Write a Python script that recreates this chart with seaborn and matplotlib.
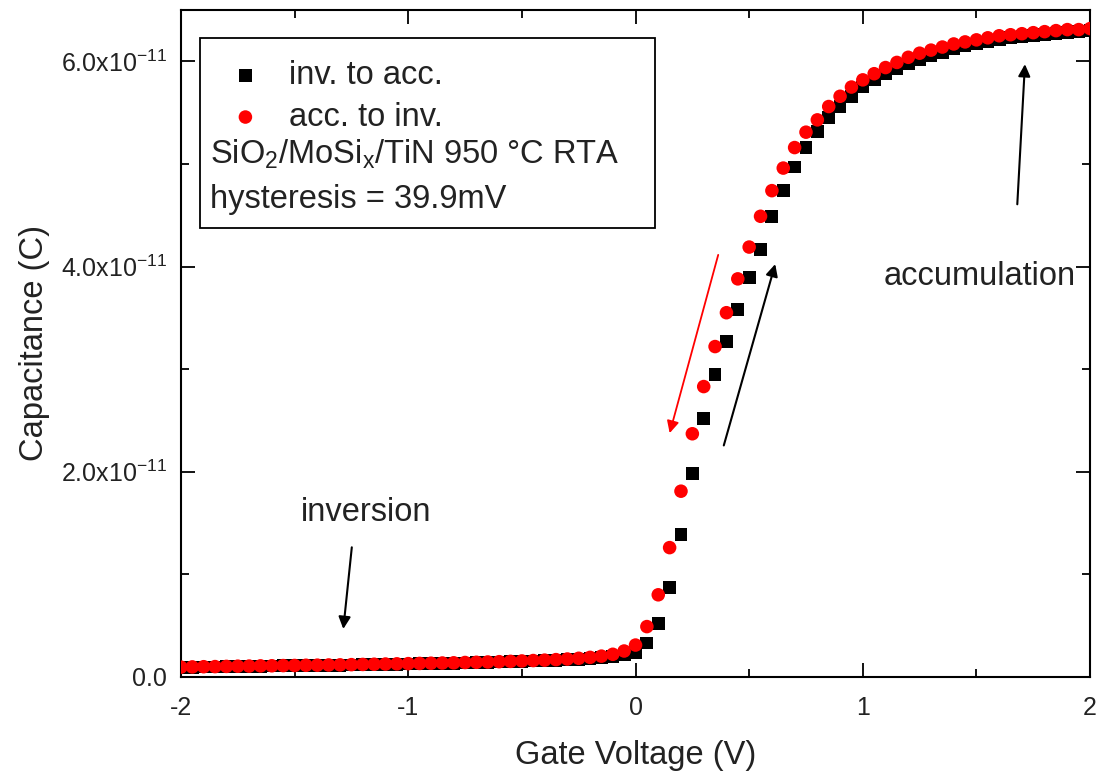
import numpy as np
import matplotlib
matplotlib.use("Agg")
import matplotlib.pyplot as plt
import seaborn as sns
import pandas as pd
from matplotlib.patches import Rectangle
from matplotlib.ticker import MultipleLocator, FixedLocator

# --- data (C in units of 1e-11 F) ---
gate_voltage = [
    -2.00, -1.95, -1.90, -1.85, -1.80, -1.75, -1.70, -1.65, -1.60, -1.55,
    -1.50, -1.45, -1.40, -1.35, -1.30, -1.25, -1.20, -1.15, -1.10, -1.05,
    -1.00, -0.95, -0.90, -0.85, -0.80, -0.75, -0.70, -0.65, -0.60, -0.55,
    -0.50, -0.45, -0.40, -0.35, -0.30, -0.25, -0.20, -0.15, -0.10, -0.05,
    0.00, 0.05, 0.10, 0.15, 0.20, 0.25, 0.30, 0.35, 0.40, 0.45,
    0.50, 0.55, 0.60, 0.65, 0.70, 0.75, 0.80, 0.85, 0.90, 0.95,
    1.00, 1.05, 1.10, 1.15, 1.20, 1.25, 1.30, 1.35, 1.40, 1.45,
    1.50, 1.55, 1.60, 1.65, 1.70, 1.75, 1.80, 1.85, 1.90, 1.95, 2.00,
]

cap_inv_to_acc = [
    0.092, 0.094, 0.096, 0.097, 0.099, 0.101, 0.102, 0.104, 0.105, 0.107,
    0.108, 0.110, 0.111, 0.113, 0.114, 0.116, 0.118, 0.120, 0.122, 0.124,
    0.126, 0.128, 0.130, 0.132, 0.134, 0.136, 0.139, 0.141, 0.144, 0.147,
    0.150, 0.154, 0.158, 0.162, 0.167, 0.173, 0.180, 0.190, 0.200, 0.215,
    0.24, 0.33, 0.52, 0.87, 1.39, 1.98, 2.52, 2.95, 3.27, 3.58,
    3.89, 4.17, 4.49, 4.74, 4.97, 5.16, 5.32, 5.45, 5.56, 5.66,
    5.75, 5.82, 5.88, 5.93, 5.98, 6.02, 6.06, 6.09, 6.12, 6.15,
    6.17, 6.19, 6.21, 6.23, 6.24, 6.25, 6.26, 6.27, 6.28, 6.29, 6.30,
]

cap_acc_to_inv = [
    0.095, 0.097, 0.099, 0.100, 0.102, 0.104, 0.105, 0.107, 0.108, 0.110,
    0.111, 0.113, 0.114, 0.116, 0.117, 0.119, 0.121, 0.123, 0.125, 0.127,
    0.129, 0.131, 0.133, 0.135, 0.137, 0.140, 0.142, 0.145, 0.148, 0.151,
    0.155, 0.159, 0.163, 0.168, 0.174, 0.181, 0.190, 0.202, 0.220, 0.252,
    0.31, 0.49, 0.80, 1.26, 1.81, 2.37, 2.83, 3.22, 3.55, 3.88,
    4.19, 4.49, 4.74, 4.96, 5.16, 5.31, 5.43, 5.56, 5.66, 5.75,
    5.82, 5.88, 5.94, 5.99, 6.04, 6.08, 6.11, 6.14, 6.17, 6.19,
    6.21, 6.23, 6.25, 6.26, 6.27, 6.28, 6.29, 6.30, 6.31, 6.31, 6.32,
]

x_ticks = [-2, -1, 0, 1, 2]
x_ticklabels = ["-2", "-1", "0", "1", "2"]
y_ticks = [0, 2e-11, 4e-11, 6e-11]
y_ticklabels = ["0.0", r"2.0x10$^{-11}$", r"4.0x10$^{-11}$", r"6.0x10$^{-11}$"]

df = pd.DataFrame({
    "V": gate_voltage,
    "C_up": np.array(cap_inv_to_acc) * 1e-11,
    "C_down": np.array(cap_acc_to_inv) * 1e-11,
})

# --- style ---
sns.set_theme(style="ticks")
plt.rcParams["font.family"] = ["Liberation Sans", "DejaVu Sans"]
plt.rcParams["mathtext.default"] = "regular"
txt = "#222222"
big = 23.5

fig = plt.figure(figsize=(11, 7.78), dpi=100)
ax = fig.add_axes([0.1645, 0.130, 0.8265, 0.857])

sns.scatterplot(data=df, x="V", y="C_up", ax=ax, marker="s", s=85, color="black",
                edgecolor="none", label="inv. to acc.", zorder=3)
sns.scatterplot(data=df, x="V", y="C_down", ax=ax, marker="o", s=95, color="#ff0000",
                edgecolor="none", label="acc. to inv.", zorder=4)

ax.set_xlim(-2, 2)
ax.set_ylim(0, 6.5e-11)
ax.xaxis.set_major_locator(FixedLocator(x_ticks))
ax.xaxis.set_minor_locator(MultipleLocator(0.5))
ax.yaxis.set_major_locator(FixedLocator(y_ticks))
ax.yaxis.set_minor_locator(MultipleLocator(1e-11))
ax.set_xticklabels(x_ticklabels)
ax.set_yticklabels(y_ticklabels)
ax.tick_params(which="both", direction="in", top=True, right=True, colors="black",
               labelcolor=txt, width=1.3)
ax.tick_params(which="major", length=10, labelsize=18, pad=10)
ax.tick_params(axis="x", which="major", pad=14)
ax.tick_params(which="minor", length=6)
for sp in ax.spines.values():
    sp.set_linewidth(1.5)
    sp.set_color("black")

ax.set_xlabel("Gate Voltage (V)", fontsize=big, color=txt, labelpad=14)
ax.set_ylabel("Capacitance (C)", fontsize=big, color=txt, labelpad=8)

# --- legend box with extra info ---
ax.add_patch(Rectangle((0.021, 0.673), 0.5005, 0.285, transform=ax.transAxes,
                       fill=False, edgecolor="black", linewidth=1.3, zorder=5))
leg = ax.legend(loc="upper left", bbox_to_anchor=(0.035, 0.945), frameon=False,
                fontsize=big, handletextpad=0.75, labelspacing=0.33, markerscale=1.0,
                borderaxespad=0, handlelength=1.2)
for t in leg.get_texts():
    t.set_color(txt)
ax.text(0.032, 0.783, r"SiO$_2$/MoSi$_x$/TiN 950 °C RTA", transform=ax.transAxes,
        fontsize=big, color=txt, va="center", ha="left")
ax.text(0.032, 0.716, "hysteresis = 39.9mV", transform=ax.transAxes,
        fontsize=big, color=txt, va="center", ha="left")

# --- annotations ---
ax.annotate("", xy=(-1.287, 0.44e-11), xytext=(-1.247, 1.29e-11),
            arrowprops=dict(arrowstyle="-|>", color="black", lw=1.5, mutation_scale=18))
ax.text(-1.186, 1.60e-11, "inversion", fontsize=big, color=txt, ha="center", va="center")

ax.annotate("", xy=(1.714, 6.0e-11), xytext=(1.679, 4.58e-11),
            arrowprops=dict(arrowstyle="-|>", color="black", lw=1.5, mutation_scale=18))
ax.text(1.516, 3.90e-11, "accumulation", fontsize=big, color=txt, ha="center", va="center")

ax.annotate("", xy=(0.147, 2.35e-11), xytext=(0.367, 4.14e-11),
            arrowprops=dict(arrowstyle="-|>", color="#ff0000", lw=1.3, mutation_scale=18))
ax.annotate("", xy=(0.618, 4.05e-11), xytext=(0.385, 2.23e-11),
            arrowprops=dict(arrowstyle="-|>", color="black", lw=1.5, mutation_scale=18))

fig.savefig("out.png", dpi=100, facecolor="white")
